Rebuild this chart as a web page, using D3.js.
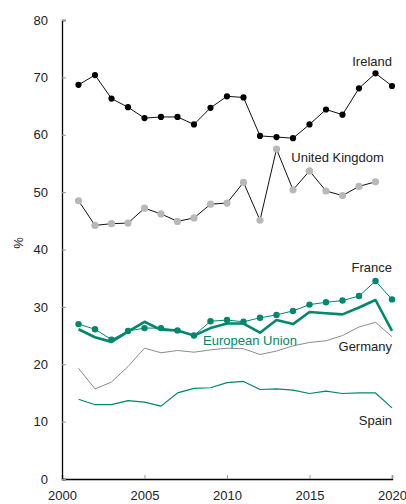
<!DOCTYPE html>
<html>
<head>
<meta charset="utf-8">
<script src="https://cdn.jsdelivr.net/npm/d3@7"></script>
<style>
  body { margin: 0; background: #fff; }
  svg text { font-family: "Liberation Sans", Arial, sans-serif; font-size: 13px; fill: #222; }
</style>
</head>
<body>
<svg id="chart" width="406" height="504"></svg>
<script>
const years = d3.range(2001, 2021);

const ireland = [68.7, 70.4, 66.3, 64.8, 62.9, 63.1, 63.1, 61.8, 64.7, 66.7,
  66.5, 59.8, 59.6, 59.4, 61.8, 64.4, 63.5, 68.1, 70.7, 68.5];
// no 2020 value for the UK
const unitedKingdom = [48.5, 44.2, 44.5, 44.6, 47.2, 46.2, 44.9, 45.5, 47.9, 48.1,
  51.7, 45.1, 57.5, 50.4, 53.7, 50.2, 49.4, 51.0, 51.8, null];
const france = [27.0, 26.1, 24.3, 25.8, 26.3, 26.3, 25.9, 25.0, 27.5, 27.7,
  27.4, 28.1, 28.6, 29.3, 30.4, 30.8, 31.1, 31.9, 34.5, 31.3];
const europeanUnion = [26.1, 24.7, 23.9, 25.7, 27.4, 26.0, 25.9, 25.0, 26.3, 27.1,
  27.1, 25.5, 27.7, 27.0, 29.1, 28.9, 28.7, 29.9, 31.2, 25.8];
const germany = [19.3, 15.7, 16.9, 19.6, 22.8, 22.0, 22.4, 22.1, 22.5, 22.8,
  22.7, 21.7, 22.3, 23.2, 23.8, 24.1, 25.0, 26.5, 27.3, 24.8];
const spain = [13.9, 12.95, 12.95, 13.65, 13.4, 12.7, 15.0, 15.8, 15.9, 16.8,
  17.0, 15.6, 15.7, 15.5, 14.9, 15.3, 14.9, 15.0, 15.0, 12.4];

const xTicks = [2000, 2005, 2010, 2015, 2020];
const yTicks = [0, 10, 20, 30, 40, 50, 60, 70, 80];

const teal = '#00876c';

const svg = d3.select('svg#chart');
const margin = { top: 20, right: 14, bottom: 25, left: 62 };
const width = 406 - margin.left - margin.right;
const height = 504 - margin.top - margin.bottom;

const x = d3.scaleLinear().domain([2000, 2020]).range([0, width]);
const y = d3.scaleLinear().domain([0, 80]).range([height, 0]);

const g = svg.append('g').attr('transform', `translate(${margin.left},${margin.top})`);

// axes: ticks point inward, grey
const xAxis = g.append('g')
  .attr('transform', `translate(0,${height})`)
  .call(d3.axisBottom(x).tickValues(xTicks).tickFormat(d3.format('d')).tickSize(-4).tickPadding(7));
const yAxis = g.append('g')
  .call(d3.axisLeft(y).tickValues(yTicks).tickSize(-4).tickPadding(14));

[xAxis, yAxis].forEach(ax => {
  ax.select('.domain').attr('stroke', '#000').attr('stroke-width', 1.3);
  ax.selectAll('.tick line').attr('stroke', '#999');
  ax.selectAll('.tick text').attr('font-size', null).attr('font-family', null).style('fill', '#222');
});
xAxis.selectAll('.tick text').attr('dy', '1.1em');

g.append('text')
  .attr('transform', `translate(${18 - margin.left},${243 - margin.top}) rotate(-90)`)
  .attr('text-anchor', 'middle')
  .attr('dy', '0.35em')
  .text('%');

const line = d3.line()
  .defined(d => d[1] != null)
  .x(d => x(d[0]))
  .y(d => y(d[1]));

const series = [
  { values: spain, stroke: teal, width: 1.2 },
  { values: germany, stroke: '#8c8c8c', width: 1 },
  { values: europeanUnion, stroke: teal, width: 2.6 },
  { values: france, stroke: teal, width: 1, dot: teal, r: 3.2 },
  { values: unitedKingdom, stroke: '#111', width: 1, dot: '#b8b8b8', r: 3.6 },
  { values: ireland, stroke: '#111', width: 1, dot: '#000', r: 3.1 }
];

series.forEach(s => {
  const pts = years.map((yr, i) => [yr, s.values[i]]);
  g.append('path')
    .attr('fill', 'none')
    .attr('stroke', s.stroke)
    .attr('stroke-width', s.width)
    .attr('stroke-linejoin', 'round')
    .attr('d', line(pts));
  if (s.dot) {
    g.append('g')
      .selectAll('circle')
      .data(pts.filter(d => d[1] != null))
      .enter()
      .append('circle')
      .attr('fill', s.dot)
      .attr('r', s.r)
      .attr('cx', d => x(d[0]))
      .attr('cy', d => y(d[1]));
  }
});

const labels = [
  { text: 'Ireland', year: 2020, value: 72.0, anchor: 'end', color: '#222' },
  { text: 'United Kingdom', year: 2013.9, value: 55.25, anchor: 'start', color: '#222' },
  { text: 'France', year: 2020, value: 36.1, anchor: 'end', color: '#222' },
  { text: 'European Union', year: 2008.55, value: 23.35, anchor: 'start', color: teal },
  { text: 'Germany', year: 2020, value: 22.3, anchor: 'end', color: '#222' },
  { text: 'Spain', year: 2020, value: 9.4, anchor: 'end', color: '#222' }
];

g.append('g')
  .selectAll('text')
  .data(labels)
  .enter()
  .append('text')
  .attr('x', d => x(d.year))
  .attr('y', d => y(d.value))
  .attr('text-anchor', d => d.anchor)
  .style('fill', d => d.color)
  .text(d => d.text);
</script>
</body>
</html>
